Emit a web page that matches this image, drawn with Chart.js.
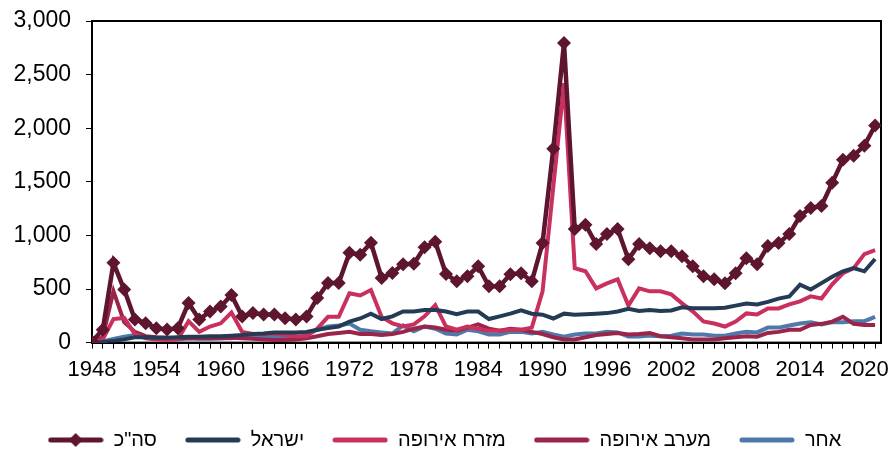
<!DOCTYPE html>
<html>
<head>
<meta charset="utf-8">
<script src="https://cdn.jsdelivr.net/npm/chart.js@4"></script>
<style>
  body { margin: 0; background: #fff; }
</style>
</head>
<body>
<canvas id="chart" width="896" height="453"></canvas>
<script>
// שנים 1948-2021
const years = [];
for (let y = 1948; y <= 2021; y++) years.push(y);

const seriesNames = ['סה"כ', 'ישראל', 'מזרח אירופה', 'מערב אירופה', 'אחר'];

const total = [
    10, 120, 744, 495, 216, 181, 134, 122, 134, 369,
    216, 291, 337, 445, 244, 275, 262, 262, 228, 215,
    244, 415, 556, 556, 837, 819, 931, 603, 650, 731,
    735, 890, 940, 640, 572, 619, 712, 525, 525, 637,
    647, 572, 928, 1809, 2794, 1059, 1100, 919, 1012, 1059,
    778, 919, 881, 853, 853, 806, 712, 619, 590, 553,
    647, 788, 731, 900, 928, 1012, 1181, 1256, 1275, 1490,
    1706, 1744, 1837, 2025
];
const israel = [
    0, 5, 15, 30, 50, 50, 45, 45, 50, 55,
    55, 60, 60, 65, 70, 80, 85, 95, 95, 95,
    100, 120, 135, 150, 195, 225, 270, 220, 245, 290,
    290, 305, 305, 290, 265, 290, 290, 220, 245, 270,
    300, 270, 260, 225, 270, 260, 265, 270, 275, 290,
    315, 295, 305, 295, 300, 330, 320, 320, 320, 325,
    345, 365, 355, 380, 410, 430, 540, 495, 555, 615,
    665, 695, 665, 780
];
const eastEurope = [
    0, 30, 220, 230, 80, 40, 30, 25, 30, 200,
    100, 150, 180, 280, 100, 80, 80, 85, 70, 60,
    60, 130, 240, 240, 460, 440, 490, 240, 180, 150,
    170, 245, 350, 150, 120, 150, 130, 110, 110, 120,
    120, 140, 478, 1450, 2420, 694, 666, 506, 553, 590,
    345, 506, 478, 478, 450, 366, 291, 197, 178, 150,
    197, 272, 262, 319, 319, 356, 384, 431, 412, 544,
    647, 694, 825, 862
];
const westEurope = [
    0, 50, 480, 190, 100, 60, 50, 45, 40, 40,
    40, 40, 40, 45, 40, 35, 30, 25, 25, 30,
    40, 60, 80, 90, 100, 80, 80, 70, 80, 100,
    130, 150, 140, 120, 110, 140, 170, 130, 110, 130,
    120, 100, 80, 50, 30, 30, 50, 70, 80, 90,
    75, 80, 90, 60, 50, 40, 30, 30, 30, 40,
    50, 60, 55, 90, 100, 120, 120, 165, 175, 195,
    240, 175, 165, 165
];
const other = [
    0, 10, 35, 55, 70, 50, 35, 30, 30, 40,
    35, 35, 40, 40, 60, 60, 55, 55, 45, 40,
    75, 120, 150, 160, 178, 120, 105, 95, 85, 160,
    105, 150, 130, 85, 75, 120, 105, 75, 75, 100,
    100, 85, 100, 75, 56, 75, 85, 85, 100, 95,
    56, 56, 65, 60, 65, 85, 75, 75, 65, 65,
    85, 100, 95, 140, 140, 160, 178, 190, 170, 190,
    190, 200, 200, 240
];

const yTicks = [0, 500, 1000, 1500, 2000, 2500, 3000];

const colors = ['#5d1530', '#243b55', '#c9305d', '#9a2548', '#4e79aa'];
const FONT = '"Liberation Sans", Arial, sans-serif';

// סמל מקרא: קו (ועם מעוין עבור סה"כ)
function legendIcon(color, diamond) {
    const c = document.createElement('canvas');
    c.width = 56; c.height = 16;
    const g = c.getContext('2d');
    g.strokeStyle = color;
    g.lineWidth = 5;
    g.lineCap = 'round';
    g.beginPath();
    g.moveTo(3, 8); g.lineTo(53, 8);
    g.stroke();
    if (diamond) {
        g.fillStyle = color;
        g.beginPath();
        g.moveTo(28, 1); g.lineTo(35, 8); g.lineTo(28, 15); g.lineTo(21, 8);
        g.closePath();
        g.fill();
    }
    return c;
}

const allSeries = [total, israel, eastEurope, westEurope, other];

const datasets = allSeries.map((vals, i) => ({
    label: seriesNames[i],
    data: years.map((yr, j) => ({ x: yr, y: vals[j] })),
    borderColor: colors[i],
    backgroundColor: colors[i],
    borderWidth: i === 0 ? 4.5 : 4,
    pointStyle: 'rectRot',
    pointRadius: i === 0 ? 7 : 0,
    pointBorderWidth: 0,
    pointBackgroundColor: colors[i],
    tension: 0,
    fill: false
}));

const boxPlugin = {
    id: 'plotBox',
    beforeDatasetsDraw(chart) {
        const a = chart.chartArea;
        const ctx = chart.ctx;
        ctx.save();
        ctx.strokeStyle = '#000';
        ctx.lineWidth = 2;
        ctx.strokeRect(a.left, a.top, a.right - a.left, a.bottom - a.top);
        ctx.restore();
    }
};

new Chart(document.getElementById('chart'), {
    type: 'line',
    data: { datasets: datasets },
    plugins: [boxPlugin],
    options: {
        responsive: false,
        animation: false,
        layout: { padding: { left: 8, right: 15, top: 0, bottom: -7 } },
        plugins: {
            tooltip: { enabled: false },
            legend: {
                position: 'bottom',
                labels: {
                    usePointStyle: true,
                    pointStyleWidth: 56,
                    padding: 28,
                    color: '#000',
                    font: { family: FONT, size: 20 },
                    generateLabels(chart) {
                        return chart.data.datasets.map((ds, i) => ({
                            text: ds.label,
                            pointStyle: legendIcon(colors[i], i === 0),
                            fillStyle: colors[i],
                            strokeStyle: colors[i],
                            lineWidth: 0,
                            hidden: false,
                            datasetIndex: i
                        }));
                    }
                }
            }
        },
        scales: {
            x: {
                type: 'linear',
                min: 1948,
                max: 2021.55,
                afterFit(scale) { scale.height += 11; },
                border: { color: '#000', width: 2 },
                grid: { drawOnChartArea: false, drawTicks: true, tickLength: 6, color: '#000' },
                ticks: {
                    stepSize: 1,
                    autoSkip: false,
                    includeBounds: false,
                    maxRotation: 0,
                    padding: 8,
                    color: '#000',
                    font: { family: FONT, size: 22 },
                    callback: v => ((v - 1948) % 6 === 0 ? String(v) : '')
                }
            },
            y: {
                min: yTicks[0],
                max: yTicks[yTicks.length - 1],
                afterFit(scale) { scale.width = 84; scale.paddingTop = 21; },
                border: { color: '#000', width: 2 },
                grid: { drawOnChartArea: false, drawTicks: true, tickLength: 6, color: '#000' },
                ticks: {
                    stepSize: 500,
                    padding: 15,
                    color: '#000',
                    font: { family: FONT, size: 23 },
                    callback: v => v.toLocaleString('en-US')
                }
            }
        }
    }
});
</script>
</body>
</html>
